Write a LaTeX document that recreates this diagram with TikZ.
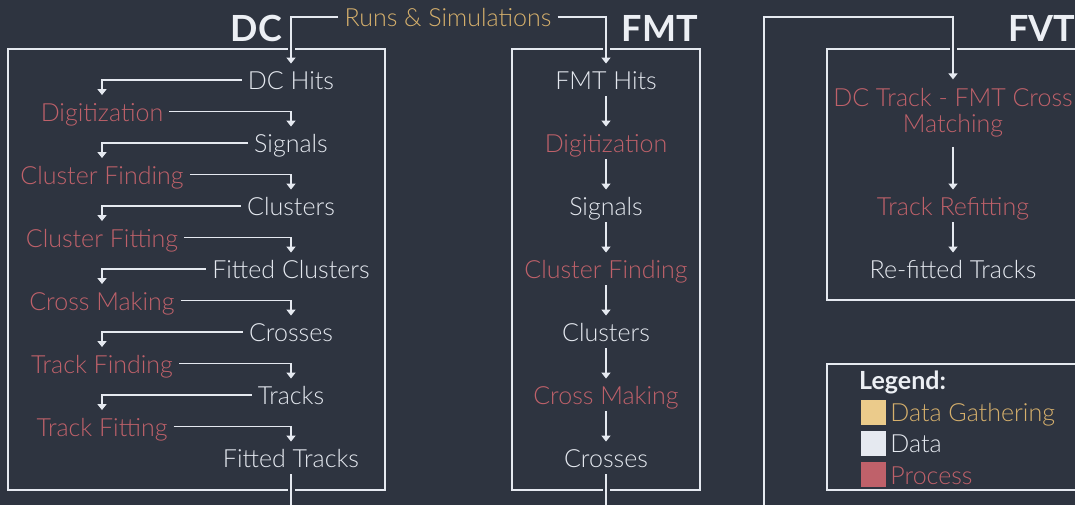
\documentclass[tikz,border=0pt]{standalone}
\usepackage{fontspec}
\setmainfont{Lato}[UprightFont=* Light, BoldFont=* Bold]
\usetikzlibrary{arrows.meta, positioning}
\definecolor{cBg}{RGB}{46, 52, 64}
\definecolor{cData}{RGB}{229, 233, 240}
\definecolor{cTitle}{RGB}{236, 239, 244}
\definecolor{cProc}{RGB}{191, 97, 106}
\definecolor{cGather}{RGB}{235, 203, 139}
\definecolor{cGatherText}{RGB}{214, 176, 108}
\definecolor{cLine}{RGB}{229, 233, 240}
\newcommand{\stepFont}{\fontsize{25}{26}\selectfont}
\newcommand{\titleFont}{\fontsize{36}{36}\selectfont\bfseries}
\tikzset{
    stepText/.style={
        font=\stepFont, inner xsep=6pt, inner ysep=6pt
    },
    dataNode/.style={
        stepText, text=cData, text height=20pt, text depth=0.5pt
    },
    procNode/.style={
        stepText, text=cProc, text height=20pt, text depth=0.5pt
    },
    gatherNode/.style={
        stepText, text=cGatherText, text height=20pt, text depth=0.5pt
    },
    titleNode/.style={
        font=\titleFont, text=cTitle, inner sep=0pt
    },
    groupBox/.style={
        draw=cLine, line width=2pt
    },
    flowArrow/.style={
        -{Triangle[length=6pt, width=9pt]},
        line width=1.6pt, draw=cLine
    },
    crossLine/.style={
        preaction={draw=cBg, line width=7pt}
    },
    legendSwatch/.style={
        minimum size=25pt, inner sep=0pt
    },
    legendText/.style={
        font=\stepFont, inner xsep=4pt, inner ysep=0pt,
        text height=20pt, text depth=0.5pt
    }
}

\begin{document}
\begin{tikzpicture}[x=1pt, y=-1pt, node distance=30.1pt]

	% =========================================================
	% Canvas
	% =========================================================

	\fill [cBg] (0,0) rectangle (1075,505);
	\clip (0,0) rectangle (1075,505);

	% =========================================================
	% Group Frames and Titles
	% =========================================================

	\draw [groupBox] (8,49) rectangle (385,490);
	\draw [groupBox] (512,49) rectangle (700,490);
	\draw [groupBox] (827,49) rectangle (1100,300);
	\draw [groupBox] (827,364) rectangle (1100,490);

	\node [titleNode, anchor=east] (dcTitle) at (282,28) {DC};
	\node [titleNode, anchor=east] (fmtTitle) at (698,28) {FMT};
	\node [titleNode, anchor=west] (fvtTitle) at (1008,28) {FVT};

	\node [gatherNode] (runs) at (448,17) {Runs \& Simulations};

	% =========================================================
	% DC Chain
	% =========================================================

	\foreach \name [count=\i] in {DC Hits, Signals, Clusters,
			Fitted Clusters, Crosses, Tracks, Fitted Tracks} {
			\node [dataNode] (dcD\i) at (291,{80+63*(\i-1)}) {\name};
		}

	\foreach \name [count=\i] in {Digitization, Cluster Finding,
			Cluster Fitting, Cross Making, Track Finding, Track Fitting} {
			\node [procNode] (dcP\i) at (102,{111.5+63*(\i-1)}) {\name};
		}

	\foreach \i [count=\j from 2] in {1,...,6} {
			\draw [flowArrow] (dcD\i.west) -| (dcP\i.north);
			\draw [flowArrow] (dcP\i.east) -| (dcD\j.north);
		}

	% =========================================================
	% FMT Chain
	% =========================================================

	\node [dataNode] (fmtD1) at (606,80) {FMT Hits};
	\node [procNode, below=of fmtD1] (fmtP1) {Digitization};
	\node [dataNode, below=of fmtP1] (fmtD2) {Signals};
	\node [procNode, below=of fmtD2] (fmtP2) {Cluster Finding};
	\node [dataNode, below=of fmtP2] (fmtD3) {Clusters};
	\node [procNode, below=of fmtD3] (fmtP3) {Cross Making};
	\node [dataNode, below=of fmtP3] (fmtD4) {Crosses};

	\foreach \a/\b in {fmtD1/fmtP1, fmtP1/fmtD2, fmtD2/fmtP2,
			fmtP2/fmtD3, fmtD3/fmtP3, fmtP3/fmtD4} {
			\draw [flowArrow] (\a) -- (\b);
		}

	% =========================================================
	% FVT Chain
	% =========================================================

	\node [stepText, text=cProc, align=center, inner ysep=9pt] (match)
		at (953,113) {DC Track - FMT Cross\\Matching};
	\node [procNode] (refit) at (953,206) {Track Refitting};
	\node [dataNode, below=of refit] (refitted) {Re-fitted Tracks};

	\draw [flowArrow] (match) -- (refit);
	\draw [flowArrow] (refit) -- (refitted);

	% =========================================================
	% Links Between Groups
	% =========================================================

	\coordinate (dcOut) at (291,515);
	\coordinate (fmtOut) at (606,515);
	\coordinate (fvtIn) at (764,515);
	\coordinate (fvtTurn) at (764,17);

	\draw [flowArrow, crossLine] (runs.west) -| (dcD1.north);
	\draw [flowArrow, crossLine] (runs.east) -| (fmtD1.north);
	\draw [flowArrow, -, crossLine] (dcD7.south) -- (dcOut);
	\draw [flowArrow, -, crossLine] (fmtD4.south) -- (fmtOut);
	\draw [flowArrow, crossLine] (fvtIn) -- (fvtTurn) -| (match.north);

	% =========================================================
	% Legend
	% =========================================================

	\node [anchor=west, font=\stepFont\bfseries, text=cTitle, inner sep=0pt]
		(legendTitle) at (859,382) {Legend:};

	\foreach \fillCol/\textCol/\label/\y [count=\i] in
			{cGather/cGatherText/Data Gathering/412,
				cData/cData/Data/443,
				cProc/cProc/Process/474.5} {
			\node [legendSwatch, fill=\fillCol] (swatch\i) at (873.5,\y) {};
			\node [legendText, text=\textCol, right=0pt of swatch\i] (legend\i) {\label};
		}

\end{tikzpicture}
\end{document}
